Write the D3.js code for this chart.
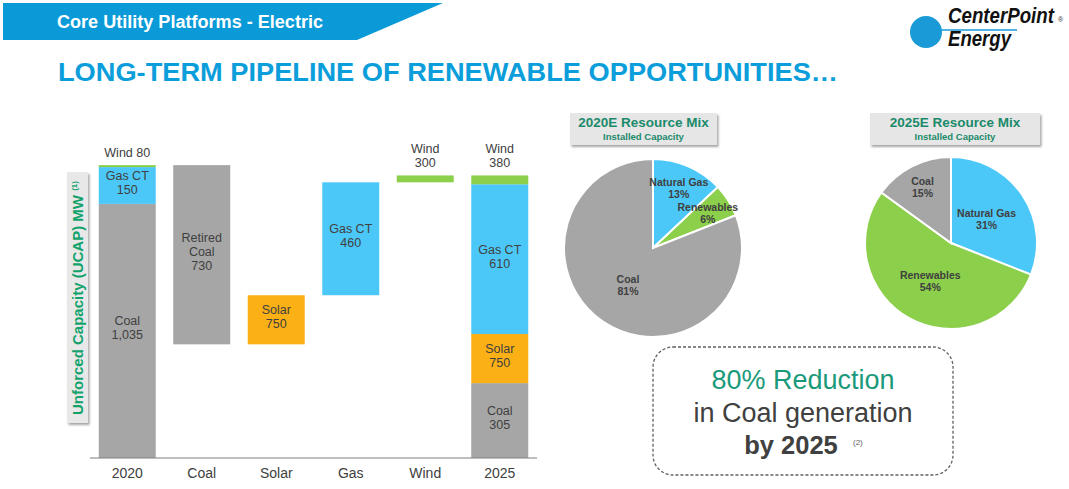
<!DOCTYPE html>
<html><head><meta charset="utf-8">
<script src="https://cdn.jsdelivr.net/npm/d3@7/dist/d3.min.js"></script>
<style>html,body{margin:0;padding:0;background:#fff;}svg{display:block;font-family:"Liberation Sans",Arial,sans-serif;}</style>
</head><body>
<svg id="c" width="1069" height="489"></svg>
<script>
// ---------- data ----------
const categories = ["2020","Coal","Solar","Gas","Wind","2025"];
const segCategory = ["2020","2020","2020","Coal","Solar","Gas","Wind","2025","2025","2025","2025"];
const segType     = ["Coal","Gas CT","Wind","Retired Coal","Solar","Gas CT","Wind","Coal","Solar","Gas CT","Wind"];
const segMW       = [1035,150,80,730,750,460,300,305,750,610,380];   // labelled MW
const segUCAP     = [1035,150,8,-730,200,460,28,305,200,610,36];     // drawn UCAP height
const totalCats   = ["2020","2025"];

const pie2020Labels = ["Natural Gas","Renewables","Coal"];
const pie2020Values = [13,6,81];
const pie2025Labels = ["Natural Gas","Renewables","Coal"];
const pie2025Values = [31,54,15];

const colorMap = {"Coal":"#a6a6a6","Retired Coal":"#a6a6a6","Gas CT":"#4cc8f8","Natural Gas":"#4cc8f8","Solar":"#fbb015","Wind":"#8ccf4b","Renewables":"#8ccf4b"};

const svg = d3.select("#c");
const defs = svg.append("defs");
const f = defs.append("filter").attr("id","sh").attr("x","-20%").attr("y","-20%").attr("width","140%").attr("height","150%");
f.append("feDropShadow").attr("dx",1.5).attr("dy",2).attr("stdDeviation",1.2).attr("flood-color","#000").attr("flood-opacity",0.35);

// ---------- header ----------
svg.append("path").attr("d","M3,3 L443,3 L357,40 L3,40 Z").attr("fill","#0a9ad7");
svg.append("text").attr("x",57).attr("y",28).attr("fill","#fff").attr("font-weight","bold").attr("font-size",18).attr("textLength",266).attr("lengthAdjust","spacingAndGlyphs").text("Core Utility Platforms - Electric");
svg.append("text").attr("x",58).attr("y",81).attr("fill","#0b9edb").attr("font-weight","bold").attr("font-size",26.5).attr("textLength",780).attr("lengthAdjust","spacingAndGlyphs").text("LONG-TERM PIPELINE OF RENEWABLE OPPORTUNITIES…");

// logo
svg.append("circle").attr("cx",926).attr("cy",32).attr("r",16).attr("fill","#1a9ad6");
svg.append("line").attr("x1",926).attr("x2",1017).attr("y1",30).attr("y2",30).attr("stroke","#1a9ad6").attr("stroke-width",1.5);
function logoText(txt,tx,ty,w){
  const t = svg.append("text").attr("x",0).attr("y",0).attr("font-style","italic").attr("font-weight","bold").attr("font-size",22.5).attr("fill","#111").text(txt);
  const nat = t.node().getComputedTextLength();
  t.attr("transform",`translate(${tx},${ty}) scale(${w/nat},1)`);
}
logoText("CenterPoint",948,23,106);
logoText("Energy",948,46,63);
svg.append("text").attr("x",1058).attr("y",22).attr("font-size",7).attr("fill","#333").text("®");

// ---------- waterfall ----------
const x = d3.scaleBand().domain(categories).range([90,537]).paddingInner(0.235).paddingOuter(0.1175);
const y = d3.scaleLinear().domain([0,1200]).range([458,163.4]);

const segs = [];
const stackBase = {};
let running = 0;
segCategory.forEach((c,i)=>{
  let y0,y1;
  if (totalCats.includes(c)) {
    const b = stackBase[c]||0; y0=b; y1=b+segUCAP[i]; stackBase[c]=y1;
    if (c==="2020") running = y1;
  } else {
    y0 = running; y1 = running + segUCAP[i]; running = y1;
  }
  segs.push({cat:c,type:segType[i],mw:segMW[i],lo:Math.min(y0,y1),hi:Math.max(y0,y1)});
});

const g = svg.append("g");
g.selectAll("rect.seg").data(segs).join("rect").attr("class","seg")
  .attr("x",d=>x(d.cat)).attr("width",x.bandwidth())
  .attr("y",d=>y(d.hi)).attr("height",d=>Math.max(1.5,y(d.lo)-y(d.hi)))
  .attr("fill",d=>colorMap[d.type]);

const fmt = d3.format(",");
segs.forEach(d=>{
  const cx = x(d.cat)+x.bandwidth()/2;
  const top = y(d.hi), bot = y(d.lo);
  let lines;
  if (d.type==="Wind") {
    lines = d.cat==="2020" ? ["Wind "+fmt(d.mw)] : ["Wind", fmt(d.mw)];
    lines.forEach((t,k)=>{
      g.append("text").attr("x",cx).attr("y",top-8-(lines.length-1-k)*14).attr("text-anchor","middle")
        .attr("font-size",12.5).attr("fill","#404040").text(t);
    });
  } else {
    lines = d.type.split(" ").concat([fmt(d.mw)]);
    if (d.type==="Gas CT") lines=["Gas CT",fmt(d.mw)];
    const mid = (top+bot)/2 - 3;
    lines.forEach((t,k)=>{
      g.append("text").attr("x",cx).attr("y",mid+(k-(lines.length-1)/2)*14+4.5).attr("text-anchor","middle")
        .attr("font-size",12.5).attr("fill","#404040").text(t);
    });
  }
});

const xAxis = g.append("g").attr("transform","translate(0,458)").call(d3.axisBottom(x).tickSize(0).tickPadding(10));
xAxis.select(".domain").attr("stroke","#7f7f7f").attr("stroke-width",1.2).attr("d","M90,0H537");
xAxis.selectAll("text").attr("font-size",14).attr("fill","#404040").attr("font-family","'Liberation Sans',Arial");

// y label box
svg.append("rect").attr("x",67).attr("y",172).attr("width",21).attr("height",251).attr("fill","#e8e8e8").attr("filter","url(#sh)");
const yl = svg.append("text").attr("transform","translate(82.5,298) rotate(-90)").attr("text-anchor","middle")
  .attr("font-weight","bold").attr("font-size",15).attr("fill","#12a36c");
yl.append("tspan").text("Unforced Capacity (UCAP) MW ");
yl.append("tspan").attr("font-size",8).attr("dy",-6).text("(1)");

// ---------- pies ----------
function drawPie(cx,cy,r,labels,values,bx,bw,title){
  svg.append("rect").attr("x",bx).attr("y",113).attr("width",bw).attr("height",32).attr("fill","#e6e6e6").attr("filter","url(#sh)");
  svg.append("text").attr("x",bx+bw/2).attr("y",127).attr("text-anchor","middle").attr("font-weight","bold").attr("font-size",13.5).attr("fill","#1b8a6b").text(title);
  svg.append("text").attr("x",bx+bw/2).attr("y",140).attr("text-anchor","middle").attr("font-weight","bold").attr("font-size",9.5).attr("fill","#1b8a6b").text("Installed Capacity");
  const data = labels.map((l,i)=>({label:l,value:values[i]}));
  const arcs = d3.pie().sort(null).value(d=>d.value)(data);
  const arc = d3.arc().innerRadius(0).outerRadius(r);
  const pg = svg.append("g").attr("transform",`translate(${cx},${cy})`);
  pg.selectAll("path").data(arcs).join("path").attr("d",arc).attr("fill",d=>colorMap[d.data.label]).attr("stroke","#fff").attr("stroke-width",2);
  arcs.forEach(a=>{
    const frac = a.data.value/100;
    const lr = frac>=0.3 ? r*0.5 : r*0.73;
    const ang = (a.startAngle+a.endAngle)/2;
    const lx = Math.sin(ang)*lr, ly = -Math.cos(ang)*lr;
    pg.append("text").attr("x",lx).attr("y",ly-2).attr("text-anchor","middle").attr("font-weight","bold").attr("font-size",10.5).attr("fill","#404040").text(a.data.label);
    pg.append("text").attr("x",lx).attr("y",ly+10).attr("text-anchor","middle").attr("font-weight","bold").attr("font-size",10.5).attr("fill","#404040").text(a.data.value+"%");
  });
}
drawPie(653,248,89,pie2020Labels,pie2020Values,570,147,"2020E Resource Mix");
drawPie(951,243,86,pie2025Labels,pie2025Values,870,170,"2025E Resource Mix");

// ---------- callout ----------
svg.append("rect").attr("x",653).attr("y",347).attr("width",300).attr("height",128).attr("rx",20).attr("fill","none")
  .attr("stroke","#606060").attr("stroke-width",1.3).attr("stroke-dasharray","3,2");
svg.append("text").attr("x",803).attr("y",389).attr("text-anchor","middle").attr("font-size",27).attr("fill","#1a9a7a").text("80% Reduction");
svg.append("text").attr("x",803).attr("y",422).attr("text-anchor","middle").attr("font-size",27).attr("fill","#404040").text("in Coal generation");
svg.append("text").attr("x",791).attr("y",454).attr("text-anchor","middle").attr("font-size",25.5).attr("font-weight","bold").attr("fill","#404040").text("by 2025");
svg.append("text").attr("x",853).attr("y",445).attr("font-size",8).attr("fill","#606060").text("(2)");
</script>
</body></html>
